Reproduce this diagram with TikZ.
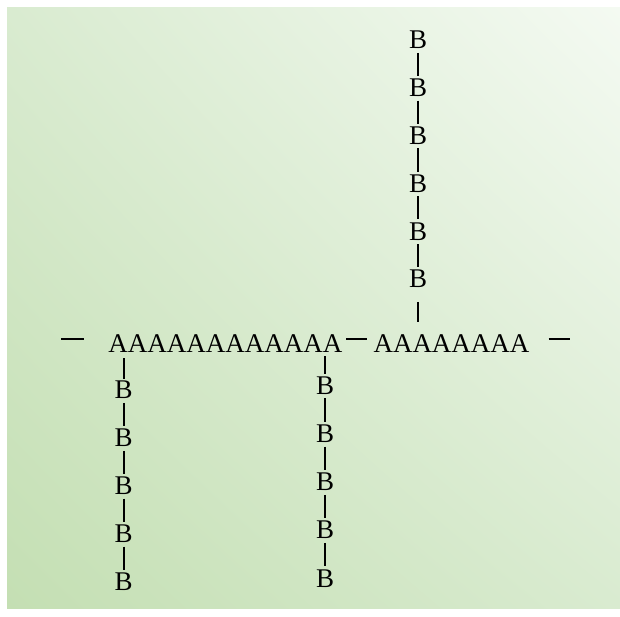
\documentclass[tikz,border=0pt]{standalone}
\usepackage{fontspec}
\setmainfont{Liberation Serif}
\usetikzlibrary{positioning,shadings}
\definecolor{bgdark}{HTML}{C4DFB3}
\definecolor{bgmid}{HTML}{D9EBD0}
\definecolor{bglight}{HTML}{F4FAF2}
\tikzset{
  atom/.style={inner sep=0pt,outer sep=0pt,font=\fontsize{27}{31}\selectfont},
  bond/.style={line width=1.7pt},
  vbond/.style={bond,shorten <=4pt,shorten >=3pt}
}

\begin{document}
\begin{tikzpicture}[x=1pt,y=-1pt]
  \useasboundingbox (0,0) rectangle (620,617);
  % Background
  \shade[lower left=bgdark,upper right=bglight,upper left=bgmid,lower right=bgmid]
    (7,8) rectangle (620,608);
  % Main row
  \node[atom] (a1) at (225.4,343.5) {AAAAAAAAAAAA};
  \node[atom] (a2) at (451.5,343.5) {AAAAAAAA};
  \coordinate (lend) at (61,339);
  \coordinate (rend) at (570,339);
  \draw[bond,shorten >=24pt] (lend) -- ([yshift=4.5pt]a1.west);
  \draw[bond,shorten <=4pt,shorten >=7pt] ([yshift=4.5pt]a1.east) -- ([yshift=4.5pt]a2.west);
  \draw[bond,shorten <=19pt] ([yshift=4.5pt]a2.east) -- (rend);
  % Top chain
  \foreach \i in {1,...,6} {
    \node[atom] (t\i) at (418.2,{40+47.8*(\i-1)}) {B};
  }
  \foreach \i [count=\j from 2] in {1,...,5} {
    \draw[vbond] (t\i) -- (t\j);
  }
  \draw[bond,shorten <=14pt,shorten >=12.5pt] (t6) -- (t6 |- a2.north);
  % Left chain
  \foreach \i in {1,...,5} {
    \node[atom] (l\i) at (123.7,{390+47.9*(\i-1)}) {B};
  }
  \draw[bond,shorten <=6pt,shorten >=2.5pt] (l1 |- a1.south) -- (l1);
  \foreach \i [count=\j from 2] in {1,...,4} {
    \draw[vbond] (l\i) -- (l\j);
  }
  % Middle chain
  \foreach \i in {1,...,5} {
    \node[atom] (m\i) at (325,{385.5+48.2*(\i-1)}) {B};
  }
  \draw[bond,shorten <=4pt,shorten >=3pt] (m1 |- a1.south) -- (m1);
  \foreach \i [count=\j from 2] in {1,...,4} {
    \draw[vbond] (m\i) -- (m\j);
  }
\end{tikzpicture}
\end{document}
